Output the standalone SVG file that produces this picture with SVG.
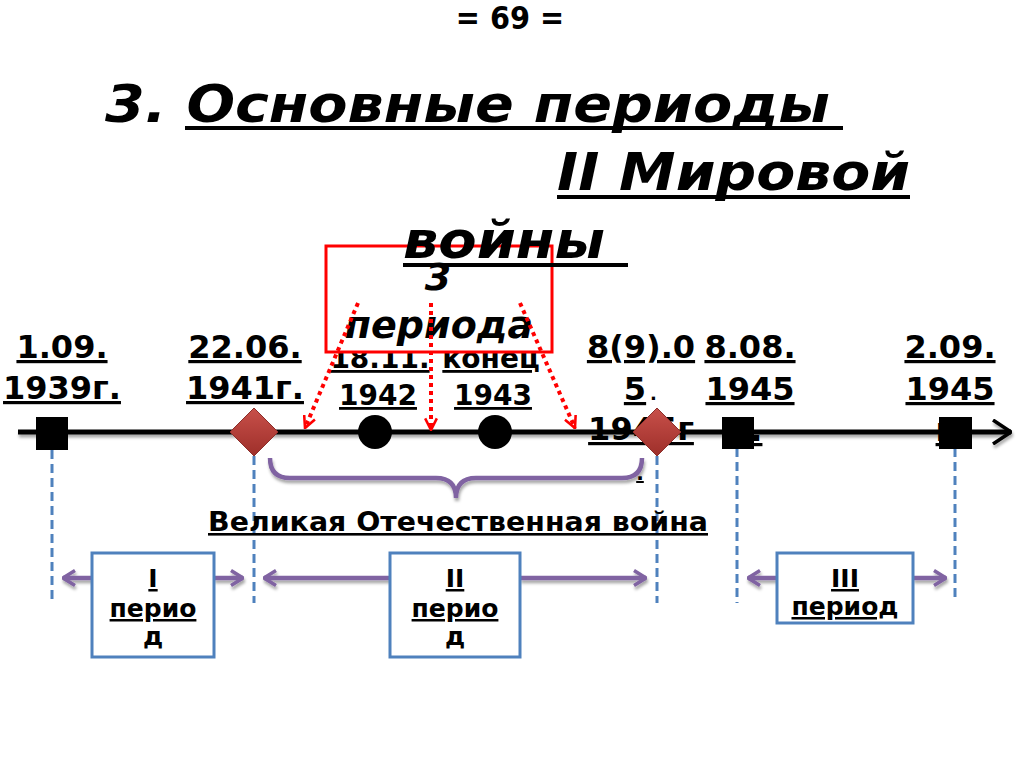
<svg xmlns="http://www.w3.org/2000/svg" width="1024" height="768" viewBox="0 0 1024 768">
<defs>
<style>
text{font-family:"DejaVu Sans","Liberation Sans",sans-serif;font-weight:bold;fill:#000}
.title{font-size:52px;font-style:italic}
.page{font-family:"DejaVu Sans Condensed","DejaVu Sans",sans-serif;font-size:32px;text-anchor:middle}
.date{font-size:32px;text-anchor:middle;text-decoration:underline}
.dsm{font-size:28px;text-anchor:middle;text-decoration:underline}
.ptxt{font-size:25px;text-anchor:middle;text-decoration:underline}
.red3{font-size:38px;font-style:italic;text-anchor:middle}
.vdash{stroke:#4f81bd;stroke-width:3;stroke-dasharray:9 5;fill:none}
.pur{stroke:#8064a2;stroke-width:4.5;fill:none}
.reddot{stroke:#ff0000;stroke-width:4;stroke-dasharray:4 4;fill:none}
.pbox{fill:#fff;stroke:#4f81bd;stroke-width:3}
.tul{stroke:#000;stroke-width:4}
.sq{fill:#000}
.dia{fill:url(#gd);stroke:#8c2f2b;stroke-width:1}
</style>
<linearGradient id="gd" x1="0" y1="0" x2="0" y2="1">
<stop offset="0" stop-color="#c8504a"/>
<stop offset="1" stop-color="#9e2f2a"/>
</linearGradient>
<filter id="sh" filterUnits="userSpaceOnUse" x="0" y="0" width="1024" height="768">
<feDropShadow dx="1" dy="3" stdDeviation="1.5" flood-color="#000" flood-opacity="0.35"/>
</filter>
<marker id="mRed" viewBox="0 0 12 12" refX="11" refY="6" markerWidth="14" markerHeight="14" markerUnits="userSpaceOnUse" orient="auto">
<path d="M1,1 L11,6 L1,11" fill="none" stroke="#ff0000" stroke-width="2.2" stroke-dasharray="none"/>
</marker>
<marker id="mPur" viewBox="0 0 14 18" refX="13" refY="9" markerWidth="14" markerHeight="18" markerUnits="userSpaceOnUse" orient="auto-start-reverse">
<path d="M1,1.5 L13,9 L1,16.5" fill="none" stroke="#8064a2" stroke-width="3.5"/>
</marker>
<marker id="mBlk" viewBox="0 0 20 26" refX="19" refY="13" markerWidth="20" markerHeight="26" markerUnits="userSpaceOnUse" orient="auto">
<path d="M1,1 L19,13 L1,25" fill="none" stroke="#000" stroke-width="3.5"/>
</marker>
</defs>
<rect width="1024" height="768" fill="#fff"/>

<g id="page-number"><text class="page" x="510" y="29">= 69 =</text></g>

<g id="dates">
<text class="date" x="62" y="358">1.09.</text>
<text class="date" x="62" y="399">1939г.</text>
<text class="date" x="245" y="358">22.06.</text>
<text class="date" x="245" y="399">1941г.</text>
<text class="dsm" x="380" y="368">18.11.</text>
<text class="dsm" x="378" y="405">1942</text>
<text class="dsm" x="491" y="368">конец</text>
<text class="dsm" x="493" y="405">1943</text>
<text class="date" x="641" y="358">8(9).0</text>
<text class="date" x="635" y="400">5</text>
<text x="650" y="400" style="font-size:18px">.</text>
<text class="date" x="641" y="440">1945г</text>
<text class="dsm" x="640" y="480" style="font-size:20px">.</text>
<text class="date" x="750" y="358">8.08.</text>
<text class="date" x="750" y="400">1945</text>
<text class="date" x="748" y="441">г.</text>
<text class="date" x="950" y="358">2.09.</text>
<text class="date" x="950" y="400">1945</text>
<text class="date" x="950" y="441">г.</text>
</g>

<g id="red-box">
<rect x="326" y="246" width="226" height="106" fill="#fff" stroke="#ff0000" stroke-width="3"/>
<text class="red3" x="438" y="290">3</text>
<text class="red3" x="439" y="338">периода</text>
</g>

<g id="title">
<text class="title" x="105" y="122" textLength="725" lengthAdjust="spacingAndGlyphs">3. Основные периоды</text>
<line class="tul" x1="185" y1="128" x2="843" y2="128"/>
<text class="title" x="557" y="190" textLength="353" lengthAdjust="spacingAndGlyphs">II Мировой</text>
<line class="tul" x1="557" y1="197" x2="910" y2="197"/>
<text class="title" x="403" y="258" textLength="202" lengthAdjust="spacingAndGlyphs">войны</text>
<line class="tul" x1="403" y1="265" x2="628" y2="265"/>
</g>

<g id="connectors">
<line x1="18" y1="432" x2="1011" y2="432" stroke="#000" stroke-width="5" marker-end="url(#mBlk)" filter="url(#sh)"/>
<path class="reddot" d="M358,303 L305,428" marker-end="url(#mRed)"/>
<path class="reddot" d="M431,303 L431,430" marker-end="url(#mRed)"/>
<path class="reddot" d="M520,303 L575,428" marker-end="url(#mRed)"/>
<line class="vdash" x1="52" y1="450" x2="52" y2="603"/>
<line class="vdash" x1="254" y1="456" x2="254" y2="603"/>
<line class="vdash" x1="657" y1="456" x2="657" y2="603"/>
<line class="vdash" x1="737" y1="448" x2="737" y2="603"/>
<line class="vdash" x1="955" y1="448" x2="955" y2="600"/>
<path class="pur" filter="url(#sh)" d="M270,458 Q270,478 290,478 L436,478 Q456,478 456,498 Q456,478 476,478 L622,478 Q642,478 642,458"/>
<path class="pur" filter="url(#sh)" d="M92,578 L63,578" marker-end="url(#mPur)"/>
<path class="pur" filter="url(#sh)" d="M214,578 L243,578" marker-end="url(#mPur)"/>
<path class="pur" filter="url(#sh)" d="M390,578 L264,578" marker-end="url(#mPur)"/>
<path class="pur" filter="url(#sh)" d="M520,578 L646,578" marker-end="url(#mPur)"/>
<path class="pur" filter="url(#sh)" d="M777,578 L748,578" marker-end="url(#mPur)"/>
<path class="pur" filter="url(#sh)" d="M913,578 L946,578" marker-end="url(#mPur)"/>
</g>

<g id="m-1939"><rect class="sq" x="36" y="417" width="32" height="33"/></g>
<g id="m-1941"><polygon class="dia" points="254,408 278,432 254,456 230,432"/></g>
<g id="m-1942"><circle cx="375" cy="432" r="17" fill="#000"/></g>
<g id="m-1943"><circle cx="495" cy="432" r="17" fill="#000"/></g>
<g id="m-1945-05"><polygon class="dia" points="657,408 681,432 657,456 633,432"/></g>
<g id="m-1945-08"><rect class="sq" x="722" y="417" width="32" height="32"/></g>
<g id="m-1945-09"><rect class="sq" x="939" y="417" width="33" height="32"/></g>

<g id="gpw-label"><text x="458" y="531" style="font-size:26px;text-anchor:middle;text-decoration:underline" textLength="500" lengthAdjust="spacingAndGlyphs">Великая Отечественная война</text></g>

<g id="period-1">
<rect class="pbox" x="92" y="553" width="122" height="104"/>
<text class="ptxt" x="153" y="587">I</text>
<text class="ptxt" x="153" y="617">перио</text>
<text class="ptxt" x="153" y="645">д</text>
</g>
<g id="period-2">
<rect class="pbox" x="390" y="553" width="130" height="104"/>
<text class="ptxt" x="455" y="587">II</text>
<text class="ptxt" x="455" y="617">перио</text>
<text class="ptxt" x="455" y="645">д</text>
</g>
<g id="period-3">
<rect class="pbox" x="777" y="553" width="136" height="70"/>
<text class="ptxt" x="845" y="587">III</text>
<text class="ptxt" x="845" y="615">период</text>
</g>
</svg>
